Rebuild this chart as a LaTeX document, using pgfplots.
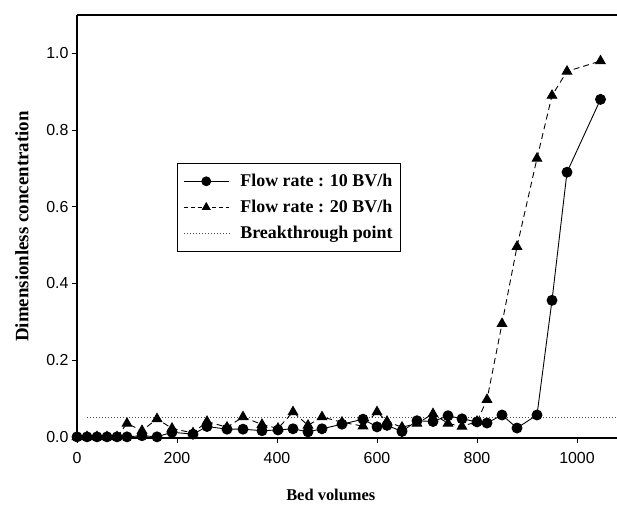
\documentclass[border=0pt]{standalone}
\usepackage{fontspec}
\setmainfont{Liberation Serif}
\newfontfamily\sansf{Liberation Sans}
\usepackage{pgfplots}
\pgfplotsset{compat=1.18}
\usepackage{pgfplotstable}

\pgfplotstableread{
bv y
0 0
20 0
40 0
60 0
80 0
100 0
130 0.003
160 0.0
190 0.012
232 0.007
260 0.027
300 0.02
332 0.02
370 0.016
402 0.018
432 0.021
462 0.013
490 0.021
530 0.033
572 0.046
600 0.026
620 0.03
650 0.014
680 0.042
712 0.04
742 0.055
770 0.047
800 0.039
820 0.036
850 0.057
880 0.023
920 0.057
950 0.356
980 0.69
1047 0.88
}\tenbv

\pgfplotstableread{
bv y
0 0
20 0
40 0
60 0
80 0
100 0.035
130 0.016
160 0.047
190 0.022
232 0.01
260 0.04
300 0.025
332 0.052
370 0.032
402 0.022
432 0.065
462 0.03
490 0.052
530 0.038
572 0.028
600 0.065
620 0.04
650 0.025
680 0.035
712 0.06
742 0.035
770 0.027
800 0.04
820 0.097
850 0.295
880 0.496
920 0.726
950 0.89
980 0.953
1047 0.98
}\twentybv

\begin{document}
\begin{tikzpicture}
\begin{axis}[
  scale only axis,
  width=540bp, height=423bp,
  xmin=0, xmax=1080,
  ymin=-0.003, ymax=1.1,
  axis x line*=bottom,
  axis y line*=left,
  axis line style={line width=1.1pt},
  xtick={0,200,...,1000},
  ytick={0,0.2,0.4,0.6,0.8,1.0},
  /pgf/number format/1000 sep={},
  xticklabel style={yshift=-6bp},
  yticklabel style={/pgf/number format/fixed,/pgf/number format/fixed zerofill,/pgf/number format/precision=1},
  /pgf/number format/assume math mode=true,
  ticklabel style={font=\sansf\fontsize{16}{18}\selectfont},
  tick align=outside,
  major tick length=5bp,
  tick style={line width=0.8pt, black},
  xlabel={\bfseries Bed volumes},
  ylabel={\bfseries Dimensionless concentration},
  xlabel style={font=\fontsize{16.5}{19}\selectfont, at={(axis description cs:0.47,-0.135)}, anchor=center},
  ylabel style={font=\fontsize{19}{22}\selectfont, at={(axis description cs:-0.102,0.5)}, anchor=center},
  legend style={at={(axis description cs:0.185,0.650)}, anchor=north west,
    draw=black, line width=0.6pt, font=\bfseries\fontsize{18}{20}\selectfont,
    row sep=8bp, column sep=9bp, inner xsep=6bp, inner ysep=9bp, cells={anchor=west}},
  legend cell align=left,
  legend image code/.code={\draw[mark repeat=2,mark phase=2,#1] plot coordinates {(0cm,0cm) (0.8cm,0cm) (1.6cm,0cm)};},
  clip=false,
]
\addlegendimage{black, line width=0.8pt, mark=*, mark size=4.5bp}
\addlegendentry{Flow rate : 10 BV/h}
\addlegendimage{black, line width=0.8pt, dash pattern=on 4bp off 3bp, mark=triangle*, mark size=4.5bp, mark options={solid}}
\addlegendentry{Flow rate : 20 BV/h}
\addlegendimage{black!70, line width=0.6pt, dash pattern=on 1bp off 2bp}
\addlegendentry{Breakthrough point}

\addplot[forget plot, black!70, line width=0.6pt, dash pattern=on 1bp off 2bp] coordinates {(20,0.05) (1080,0.05)};
\addplot[forget plot, black, line width=0.9pt, dash pattern=on 6bp off 4bp, mark=triangle*, mark size=5.5bp, mark options={solid}] table[x=bv,y=y] {\twentybv};
\addplot[forget plot, black, line width=0.9pt, mark=*, mark size=5bp] table[x=bv,y=y] {\tenbv};
\draw[line width=1.1pt] (rel axis cs:0,1) -- (rel axis cs:1,1);
\end{axis}
\pgfresetboundingbox
\useasboundingbox (-77bp,-68bp) rectangle (540bp,438bp);
\end{tikzpicture}
\end{document}
